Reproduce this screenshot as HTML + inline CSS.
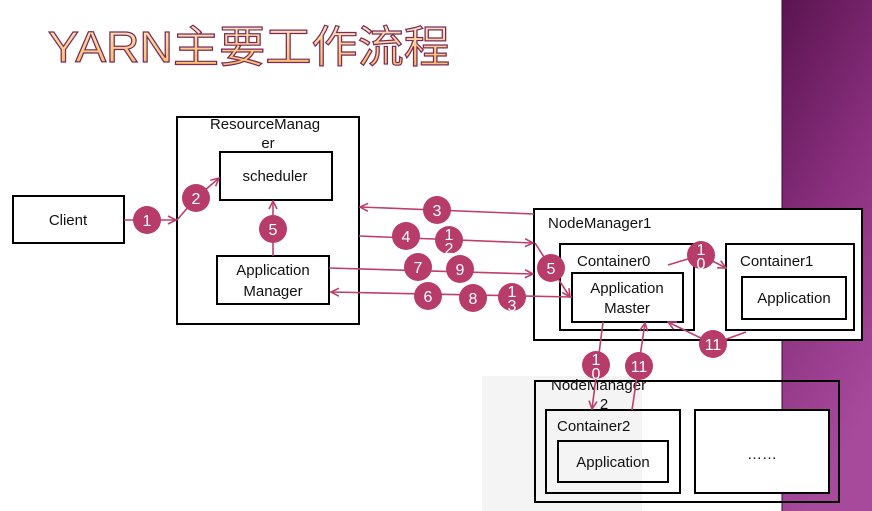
<!DOCTYPE html>
<html><head><meta charset="utf-8"><style>
html,body{margin:0;padding:0;background:#fff;}
svg{display:block;font-family:"Liberation Sans","Noto Sans CJK SC",sans-serif;}
</style></head><body>
<svg width="872" height="511" viewBox="0 0 872 511" xmlns="http://www.w3.org/2000/svg">
<defs>
<linearGradient id="pg" x1="0" y1="0" x2="0.3" y2="1">
<stop offset="0" stop-color="#5a1450"/><stop offset="0.5" stop-color="#8a2f7e"/><stop offset="1" stop-color="#a84a9c"/>
</linearGradient>
<linearGradient id="tg" x1="0" y1="0" x2="0" y2="1">
<stop offset="0" stop-color="#fde9c8"/><stop offset="0.5" stop-color="#fccf8a"/><stop offset="1" stop-color="#f8b860"/>
</linearGradient>
<marker id="ar" markerWidth="10" markerHeight="10" refX="9" refY="5" orient="auto" markerUnits="userSpaceOnUse">
<path d="M1,1 L9,5 L1,9" fill="none" stroke="#be3f6e" stroke-width="1.6"/>
</marker>
</defs>
<rect x="782" y="0" width="90" height="511" fill="url(#pg)"/>
<line x1="782" y1="0" x2="782" y2="511" stroke="#3a0a30" stroke-width="1"/>
<rect x="482" y="376" width="160" height="135" fill="#f4f4f4"/>
<text x="48" y="62" font-size="44" textLength="402" lengthAdjust="spacingAndGlyphs" fill="url(#tg)" stroke="#7a2a5a" stroke-width="1.2" font-family="'Liberation Sans','Noto Sans CJK SC',sans-serif">YARN主要工作流程</text>

<g fill="none" stroke="#000" stroke-width="2">
<rect x="13" y="196" width="111" height="47" fill="#fff"/>
<rect x="177" y="117" width="182" height="207" fill="#fff"/>
<rect x="220" y="152" width="112" height="48" fill="#fff"/>
<rect x="217" y="256" width="112" height="48" fill="#fff"/>
<rect x="534" y="209" width="328" height="131" fill="#fff"/>
<rect x="560" y="244" width="134" height="86"/>
<rect x="572" y="273" width="111" height="49"/>
<rect x="726" y="244" width="128" height="86"/>
<rect x="742" y="277" width="104" height="42"/>
<rect x="535" y="381" width="304" height="121"/>
<rect x="546" y="410" width="134" height="83"/>
<rect x="558" y="441" width="110" height="41"/>
<rect x="695" y="410" width="134" height="83" fill="#fff"/>
</g>
<g font-size="15" fill="#111" text-anchor="middle">
<text x="68" y="225">Client</text>
<text x="265" y="129">ResourceManag</text>
<text x="268" y="148">er</text>
<text x="275" y="181">scheduler</text>
<text x="273" y="275">Application</text>
<text x="273" y="296">Manager</text>
<text x="548" y="228" text-anchor="start">NodeManager1</text>
<text x="577" y="266" text-anchor="start">Container0</text>
<text x="627" y="293">Application</text>
<text x="627" y="313">Master</text>
<text x="740" y="266" text-anchor="start">Container1</text>
<text x="794" y="303">Application</text>
<text x="551" y="390" text-anchor="start">NodeManager</text>
<text x="604" y="409">2</text>
<text x="557" y="431" text-anchor="start">Container2</text>
<text x="613" y="467">Application</text>
<text x="762" y="459">……</text>
</g>

<g stroke="#be3f6e" stroke-width="1.6" fill="none" marker-end="url(#ar)">
<line x1="124" y1="220" x2="176" y2="220"/>
<polyline points="177,220 196,198 219,178" />
<line x1="273" y1="256" x2="273" y2="201"/>
<line x1="534" y1="214" x2="360" y2="207"/>
<line x1="359" y1="236" x2="533" y2="243"/>
<polyline points="535,243 551,268 570,297"/>
<line x1="329" y1="268" x2="533" y2="274"/>
<line x1="572" y1="297" x2="331" y2="292"/>
<polyline points="668,265 701,255 726,268"/>
<polyline points="746,332 713,344 668,322"/>
<line x1="603" y1="322" x2="592" y2="409"/>
<line x1="632" y1="410" x2="645" y2="323"/>
</g>

<g fill="#b83c6a">
<circle cx="147" cy="220" r="14"/><circle cx="196" cy="198" r="14"/><circle cx="273" cy="229" r="14"/>
<circle cx="437" cy="210" r="14"/><circle cx="406" cy="236" r="14"/><circle cx="449" cy="240" r="14"/>
<circle cx="418" cy="267" r="14"/><circle cx="460" cy="269" r="14"/><circle cx="428" cy="296" r="14"/>
<circle cx="473" cy="298" r="14"/><circle cx="512" cy="297" r="14"/><circle cx="551" cy="268" r="14"/>
<circle cx="701" cy="255" r="14"/><circle cx="713" cy="344" r="14"/><circle cx="596" cy="365" r="14"/>
<circle cx="639" cy="366" r="14"/>
</g>
<g fill="#fff" font-size="16" text-anchor="middle">
<text x="147" y="226">1</text><text x="196" y="204">2</text><text x="273" y="235">5</text>
<text x="437" y="216">3</text><text x="406" y="242">4</text>
<text x="449" y="240">1</text><text x="449" y="254">2</text>
<text x="418" y="273">7</text><text x="460" y="275">9</text><text x="428" y="302">6</text>
<text x="473" y="304">8</text>
<text x="512" y="297">1</text><text x="512" y="311">3</text>
<text x="551" y="274">5</text>
<text x="701" y="255">1</text><text x="701" y="269">0</text>
<text x="713" y="350">11</text>
<text x="596" y="365">1</text><text x="596" y="379">0</text>
<text x="639" y="372">11</text>
</g>
</svg>
</body></html>
